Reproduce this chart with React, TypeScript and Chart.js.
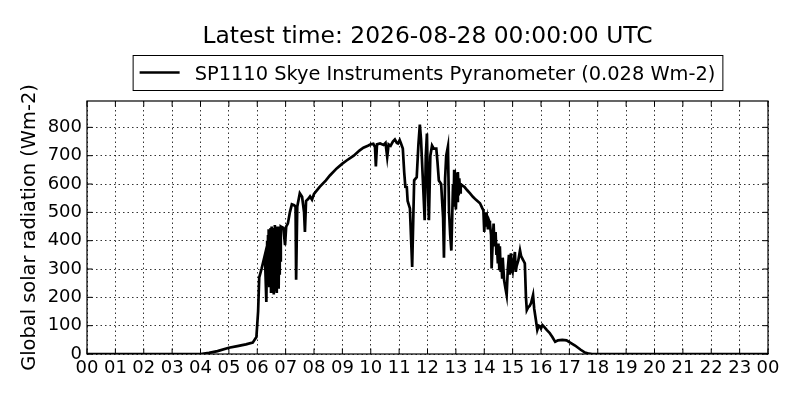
import React, { useEffect, useRef } from "react";
import { Chart, registerables } from "chart.js";

Chart.register(...registerables);

const TITLE = "Latest time: 2026-08-28 00:00:00 UTC";
const SERIES_LABEL = "SP1110 Skye Instruments Pyranometer (0.028 Wm-2)";
const Y_TITLE = "Global solar radiation (Wm-2)";

const HOUR_LABELS = [
  "00", "01", "02", "03", "04", "05", "06", "07", "08", "09", "10", "11",
  "12", "13", "14", "15", "16", "17", "18", "19", "20", "21", "22", "23", "00",
];

const Y_TICKS = [0, 100, 200, 300, 400, 500, 600, 700, 800];

// time of day in decimal hours
const TIMES = [
  0, 1, 2, 3, 4.0, 4.3, 4.6, 5.0, 5.3, 5.6, 5.84, 5.97, 6.03, 6.07, 6.15, 6.27, 6.32,
  6.35, 6.365, 6.38, 6.395, 6.41, 6.425, 6.44, 6.455, 6.47, 6.485, 6.5, 6.515, 6.53, 6.545,
  6.56, 6.575, 6.59, 6.605, 6.62, 6.635, 6.65, 6.665, 6.68, 6.695, 6.71, 6.725, 6.74, 6.755,
  6.77, 6.785, 6.8, 6.815, 6.83,
  6.86, 6.92, 6.98, 7.02, 7.08, 7.15, 7.22, 7.3, 7.35, 7.37, 7.41, 7.5, 7.58, 7.65, 7.68,
  7.72, 7.8, 7.86, 7.93, 8.0, 8.2, 8.42, 8.56, 8.8, 9.0, 9.15, 9.4, 9.6, 9.74, 9.9, 10.0,
  10.09, 10.15, 10.18, 10.22, 10.33, 10.45, 10.52, 10.58, 10.63, 10.7, 10.78, 10.85, 10.92,
  10.96, 11.02, 11.06, 11.13, 11.18, 11.22, 11.27, 11.3, 11.38, 11.46, 11.53, 11.62, 11.68,
  11.73, 11.77, 11.84, 11.9, 11.94, 11.98, 12.02, 12.05, 12.1, 12.16, 12.22, 12.31, 12.35,
  12.4, 12.48, 12.55, 12.58, 12.62, 12.66, 12.72, 12.76, 12.8, 12.84, 12.9, 12.92, 12.94,
  12.96, 12.98, 13.0, 13.03, 13.05, 13.07, 13.1, 13.12, 13.15, 13.17, 13.22, 13.3, 13.4,
  13.5, 13.6, 13.7, 13.85, 13.93, 13.97, 14.0, 14.03, 14.06, 14.1, 14.13, 14.17, 14.2,
  14.24, 14.26, 14.3, 14.33, 14.36, 14.4, 14.43, 14.45, 14.48, 14.5, 14.53, 14.55, 14.58,
  14.6, 14.63, 14.65, 14.7, 14.75, 14.79, 14.83, 14.87, 14.9, 14.94, 14.97, 15.0, 15.04,
  15.08, 15.11, 15.14, 15.2, 15.26, 15.3, 15.38, 15.43, 15.47, 15.5, 15.55, 15.6, 15.65,
  15.72, 15.76, 15.82, 15.87, 15.92, 15.96, 16.0, 16.05, 16.12, 16.2, 16.3, 16.4, 16.5,
  16.6, 16.75, 16.9, 17.0, 17.2, 17.4, 17.55, 17.7, 17.8, 19, 21, 23, 24,
];

// global solar radiation, W m-2
const VALUES = [
  0, 0, 0, 0, 0, 4, 10, 22, 28, 34, 40, 60, 150, 270, 300, 350, 184,
  400, 260, 420, 300, 440, 240, 430, 280, 445, 220, 450, 300, 440, 230, 435,
  210, 445, 250, 455, 225, 440, 300, 450, 215, 430, 260, 445, 230, 450,
  280, 440, 330, 450,
  448, 445, 384, 450, 461, 500, 528, 525, 520, 262, 520, 567, 555, 500, 431,
  540, 548, 556, 545, 565, 590, 613, 630, 655, 672, 683, 700, 718, 728, 735, 740,
  742, 730, 662, 740, 743, 738, 745, 695, 740, 735, 750, 757, 745,
  743, 755, 745, 725, 640, 590, 589, 540, 514, 307, 613, 624, 740,
  810, 760, 607, 472, 700, 778, 567, 472, 700, 736, 725, 725, 680,
  612, 600, 480, 340, 620, 700, 732, 500, 420, 365, 600, 520, 650,
  530, 640, 510, 600, 540, 642, 560, 620, 570, 600, 595, 590, 578,
  567, 555, 545, 532, 515, 507, 431, 500, 450, 475, 440, 470, 461,
  420, 302, 400, 460, 380, 430, 350, 378, 320, 390, 300, 380, 290,
  330, 270, 340, 260, 230, 208, 300, 350, 280, 355, 300, 290, 330,
  360, 290, 310, 330, 366, 345, 330, 320, 200, 155, 165, 170, 180,
  208, 160, 120, 85, 100, 98, 90, 102, 95, 85, 75, 60, 43,
  48, 50, 48, 42, 30, 15, 5, 1, 0, 0, 0, 0, 0,
];

const Y_MAX = 893;
const FONT = '"DejaVu Sans", sans-serif';

const decorPlugin = {
  id: "decor",
  afterDraw(chart: any) {
    const { ctx, chartArea } = chart;
    const { left, right, top, bottom } = chartArea;
    const cx = (left + right) / 2;
    ctx.save();
    // frame
    ctx.strokeStyle = "#000";
    ctx.lineWidth = 1.2;
    ctx.setLineDash([]);
    ctx.strokeRect(left, top, right - left, bottom - top);
    // inward ticks
    const tl = 5.5;
    ctx.lineWidth = 1;
    const xs = chart.scales.x;
    const ys = chart.scales.y;
    ctx.beginPath();
    for (let i = 0; i < HOUR_LABELS.length; i++) {
      const px = xs.getPixelForValue(i);
      ctx.moveTo(px, bottom);
      ctx.lineTo(px, bottom - tl);
      ctx.moveTo(px, top);
      ctx.lineTo(px, top + tl);
    }
    for (const v of Y_TICKS) {
      const py = ys.getPixelForValue(v);
      ctx.moveTo(left, py);
      ctx.lineTo(left + tl, py);
      ctx.moveTo(right, py);
      ctx.lineTo(right - tl, py);
    }
    ctx.stroke();
    // title
    ctx.fillStyle = "#000";
    ctx.font = `23.4px ${FONT}`;
    ctx.textAlign = "center";
    ctx.textBaseline = "alphabetic";
    ctx.fillText(TITLE, cx, 43);
    // legend
    ctx.font = `19.4px ${FONT}`;
    const label = chart.data.datasets[0].label as string;
    const tw = ctx.measureText(label).width;
    const w = 7 + 40 + 15 + tw + 7;
    const bx = cx - w / 2;
    const by = 55;
    const bh = 35;
    ctx.fillStyle = "#fff";
    ctx.fillRect(bx, by, w, bh);
    ctx.strokeStyle = "#000";
    ctx.lineWidth = 1;
    ctx.strokeRect(bx + 0.5, by + 0.5, w, bh);
    ctx.lineWidth = 2.6;
    ctx.beginPath();
    ctx.moveTo(bx + 7, by + 17.5);
    ctx.lineTo(bx + 47, by + 17.5);
    ctx.stroke();
    ctx.fillStyle = "#000";
    ctx.textAlign = "left";
    ctx.fillText(label, bx + 62, by + 24.5);
    ctx.restore();
  },
};

export default function App() {
  const ref = useRef<HTMLCanvasElement | null>(null);

  useEffect(() => {
    if (!ref.current) return;
    Chart.defaults.font.family = FONT;
    const chart = new Chart(ref.current, {
      type: "line",
      data: {
        datasets: [
          {
            label: SERIES_LABEL,
            data: TIMES.map((t, i) => ({ x: t, y: VALUES[i] })),
            borderColor: "#000",
            backgroundColor: "#000",
            borderWidth: 2.7,
            pointRadius: 0,
            tension: 0,
            fill: false,
          },
        ],
      },
      options: {
        responsive: true,
        maintainAspectRatio: false,
        animation: false,
        layout: { padding: { top: 101, right: 32, bottom: 0, left: 0 } },
        plugins: {
          legend: { display: false },
          title: { display: false },
          tooltip: { enabled: false },
        },
        scales: {
          x: {
            type: "linear",
            min: 0,
            max: 24,
            afterBuildTicks: (scale: any) => {
              scale.ticks = HOUR_LABELS.map((_, i) => ({ value: i }));
            },
            afterFit: (scale: any) => {
              scale.height = 46;
            },
            ticks: {
              stepSize: 1,
              autoSkip: false,
              maxRotation: 0,
              minRotation: 0,
              padding: 4,
              color: "#000",
              font: { size: 18, family: FONT },
              callback: (v: any) => HOUR_LABELS[Math.round(Number(v))] ?? "",
            },
            grid: {
              color: "#000",
              lineWidth: 0.8,
              drawTicks: false,
            },
            border: { display: false, dash: [1.5, 3] },
          },
          y: {
            min: 0,
            max: Y_MAX,
            afterBuildTicks: (scale: any) => {
              scale.ticks = Y_TICKS.map((v) => ({ value: v }));
            },
            afterFit: (scale: any) => {
              scale.width = 87;
            },
            ticks: {
              padding: 5,
              color: "#000",
              font: { size: 18, family: FONT },
              callback: (v: any) => String(v),
            },
            grid: {
              color: "#000",
              lineWidth: 0.8,
              drawTicks: false,
            },
            border: { display: false, dash: [1.5, 3] },
            title: {
              display: true,
              text: Y_TITLE,
              color: "#000",
              font: { size: 19.4, family: FONT },
              padding: { top: 18, bottom: 0 },
            },
          },
        },
      },
      plugins: [decorPlugin],
    });
    return () => chart.destroy();
  }, []);

  return (
    <div style={{ position: "absolute", left: 0, top: 0, width: 800, height: 400, background: "#fff" }}>
      <canvas ref={ref} />
    </div>
  );
}
